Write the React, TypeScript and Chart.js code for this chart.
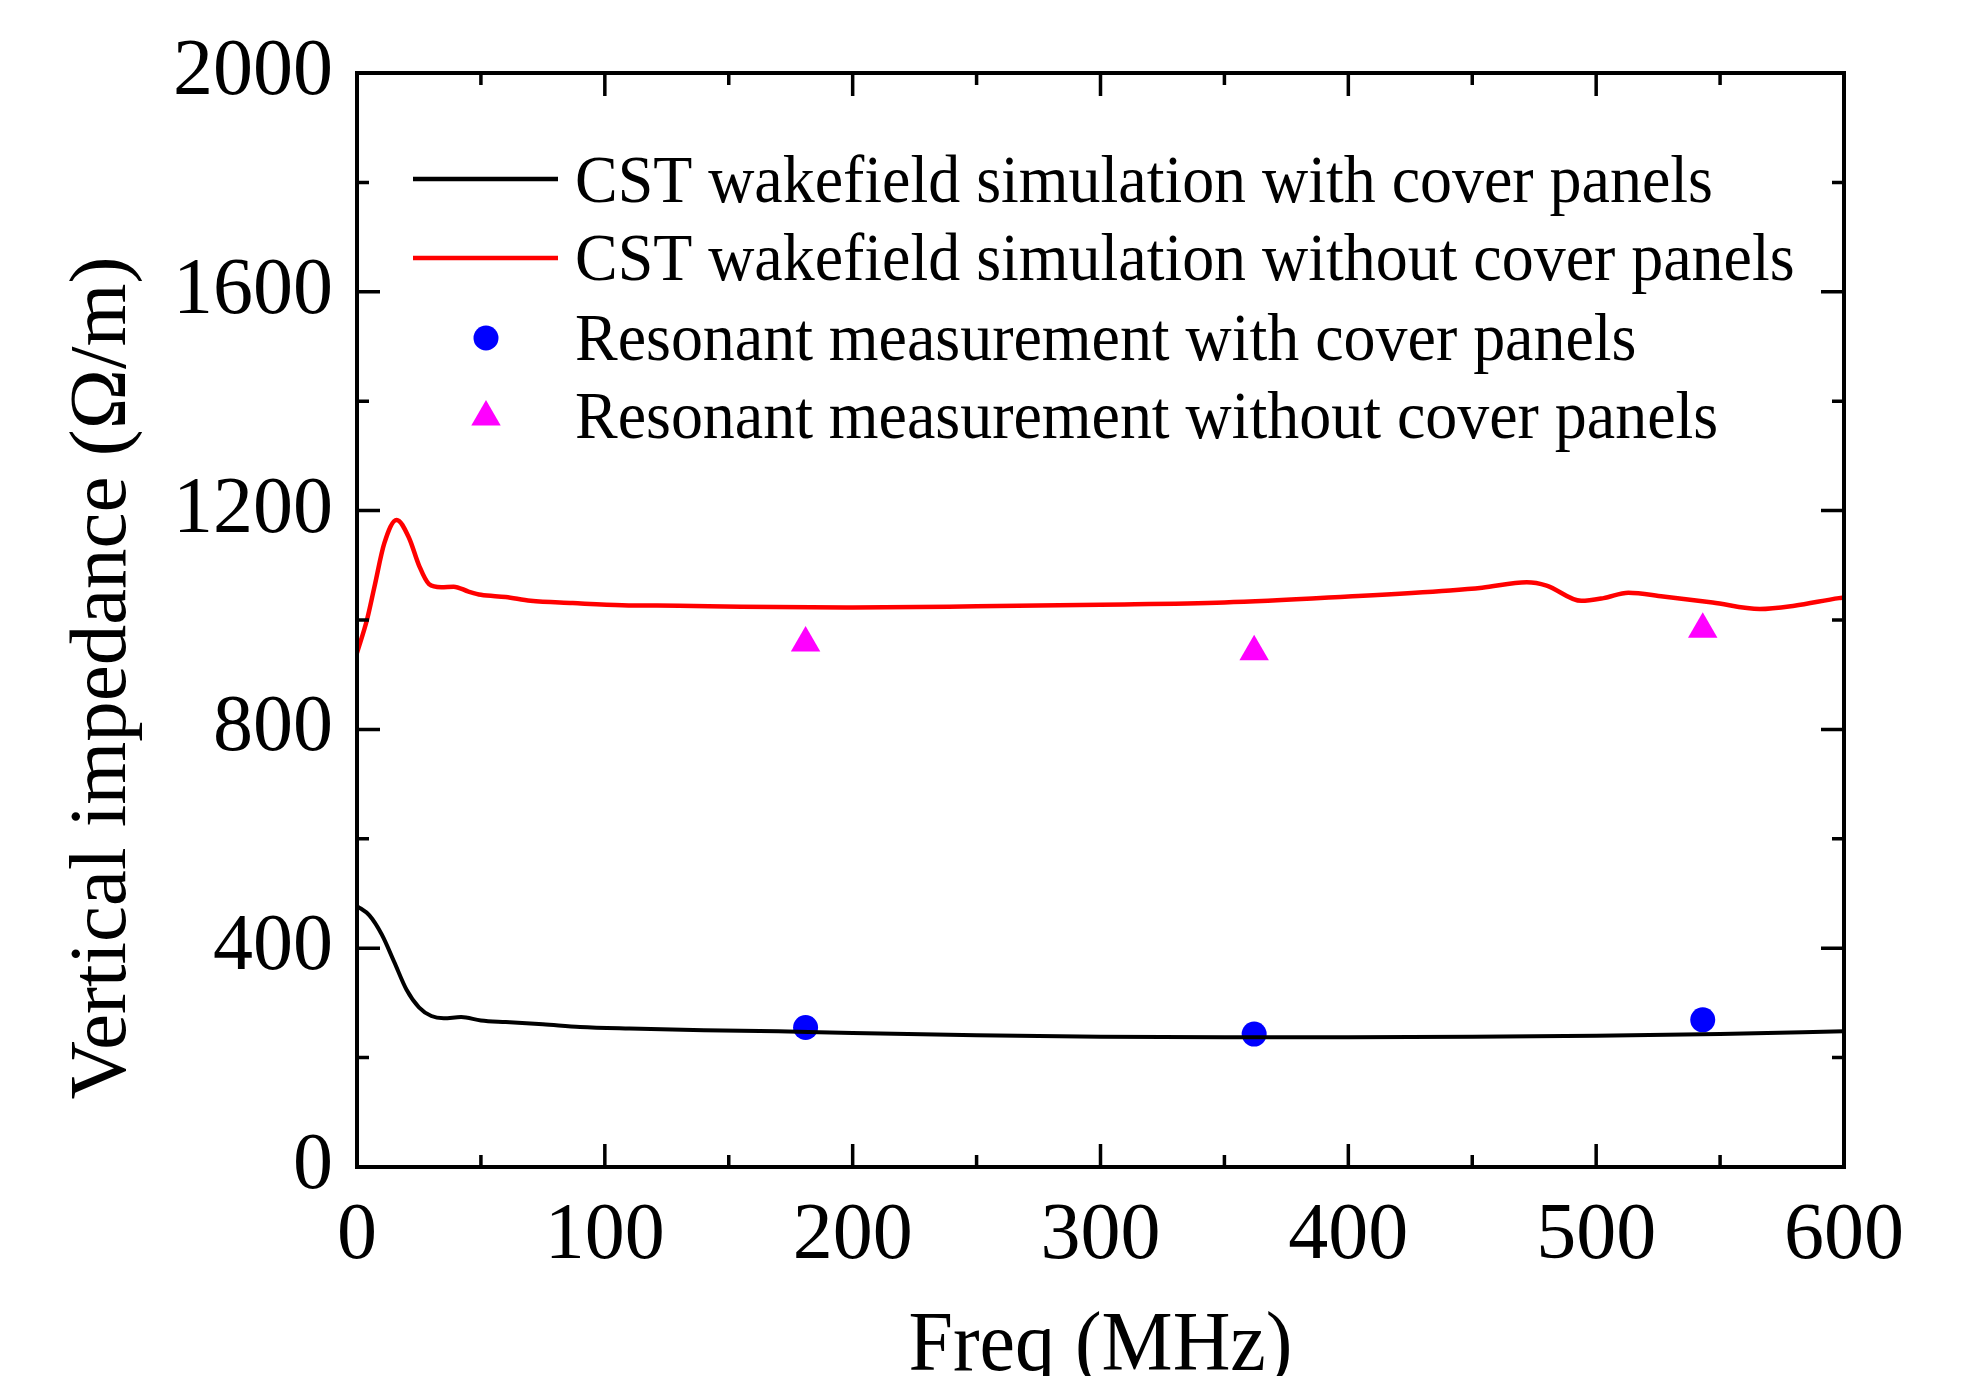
import React, { useEffect, useRef } from "react";
import { Chart, registerables } from "chart.js";

Chart.register(...registerables);

// ---- data ----
const blackFreq = [0, 5, 10, 15, 20, 25, 30, 35, 42, 50, 60, 75, 90, 110, 140, 170, 200, 250, 300, 350, 400, 450, 500, 550, 600];
const blackZ = [477, 460, 425, 375, 324, 292, 276, 272, 274, 268, 265, 261, 256, 253, 250, 248, 245, 241, 238, 237, 237, 238, 240, 243, 248];

const redFreq = [0, 4, 7, 11, 16, 21, 25, 29, 34, 39, 45, 50, 60, 70, 87, 107, 130, 155, 200, 250, 300, 350, 400, 441, 454, 472, 480, 494, 503, 513, 527, 547, 566, 580, 598, 600];
const redZ = [940, 1000, 1060, 1140, 1183, 1150, 1100, 1066, 1060, 1061, 1052, 1046, 1042, 1035, 1031, 1027, 1026, 1024, 1023, 1025, 1028, 1032, 1043, 1054, 1059, 1069, 1063, 1035, 1040, 1050, 1043, 1032, 1020, 1026, 1040, 1041];

const measFreq = [181, 362, 543];
const measWith = [255, 243, 269];
const measWithout = [958, 942, 983];

const legendLabels = [
  "CST wakefield simulation with cover panels",
  "CST wakefield simulation without cover panels",
  "Resonant measurement with cover panels",
  "Resonant measurement without cover panels",
];
const xTitle = "Freq (MHz)";
const yTitle = "Vertical impedance (Ω/m)";

const xMin = 0, xMax = 600, xMajor = 100, xMinor = 50;
const yMin = 0, yMax = 2000, yMajor = 400, yMinor = 200;

const FONT = "'Liberation Serif', 'Times New Roman', serif";

const toPts = (xs: number[], ys: number[]) => xs.map((x, i) => ({ x, y: ys[i] }));

const framePlugin = {
  id: "frame",
  afterDraw(chart: any) {
    const { ctx, chartArea, scales } = chart;
    const { left, right, top, bottom } = chartArea;
    const xs = scales.x, ys = scales.y;
    ctx.save();
    ctx.strokeStyle = "#000";
    ctx.lineWidth = 4;
    ctx.strokeRect(left, top, right - left, bottom - top);
    ctx.lineWidth = 3.5;
    for (let v = xMin; v <= xMax; v += xMinor) {
      const px = xs.getPixelForValue(v);
      const len = v % xMajor === 0 ? 23 : 12;
      ctx.beginPath();
      ctx.moveTo(px, bottom); ctx.lineTo(px, bottom - len);
      ctx.moveTo(px, top); ctx.lineTo(px, top + len);
      ctx.stroke();
    }
    for (let v = yMin; v <= yMax; v += yMinor) {
      const py = ys.getPixelForValue(v);
      const len = v % yMajor === 0 ? 23 : 12;
      ctx.beginPath();
      ctx.moveTo(left, py); ctx.lineTo(left + len, py);
      ctx.moveTo(right, py); ctx.lineTo(right - len, py);
      ctx.stroke();
    }

    // axis titles
    ctx.fillStyle = "#000";
    ctx.font = `85px ${FONT}`;
    ctx.textAlign = "center";
    ctx.textBaseline = "alphabetic";
    ctx.save();
    ctx.translate((left + right) / 2, 1370);
    ctx.scale(0.94, 1);
    ctx.fillText(xTitle, 0, 0);
    ctx.restore();

    ctx.save();
    ctx.font = `81px ${FONT}`;
    ctx.translate(125, 678);
    ctx.rotate(-Math.PI / 2);
    ctx.fillText(yTitle, 0, 0);
    ctx.restore();

    // legend
    const baselines = [202, 280, 360, 438];
    const symY = [179, 258, 338, 414];
    ctx.font = `68px ${FONT}`;
    ctx.textAlign = "left";
    legendLabels.forEach((t, i) => {
      ctx.save();
      ctx.translate(575, baselines[i]);
      ctx.scale(0.94, 1);
      ctx.fillText(t, 0, 0);
      ctx.restore();
    });
    ctx.lineWidth = 4.5;
    ctx.strokeStyle = "#000";
    ctx.beginPath(); ctx.moveTo(413, symY[0]); ctx.lineTo(558, symY[0]); ctx.stroke();
    ctx.strokeStyle = "#ff0000";
    ctx.beginPath(); ctx.moveTo(413, symY[1]); ctx.lineTo(558, symY[1]); ctx.stroke();
    ctx.fillStyle = "#0000ff";
    ctx.beginPath(); ctx.arc(486, symY[2], 12.5, 0, Math.PI * 2); ctx.fill();
    ctx.fillStyle = "#ff00ff";
    const r = 17;
    const cy = symY[3] + 3;
    ctx.beginPath();
    ctx.moveTo(486, cy - r);
    ctx.lineTo(486 + r * Math.sin((2 * Math.PI) / 3), cy + r / 2);
    ctx.lineTo(486 - r * Math.sin((2 * Math.PI) / 3), cy + r / 2);
    ctx.closePath();
    ctx.fill();
    ctx.restore();
  },
};

export default function App() {
  const ref = useRef<HTMLCanvasElement | null>(null);
  useEffect(() => {
    if (!ref.current) return;
    Chart.defaults.font.family = FONT;
    const chart = new Chart(ref.current, {
      type: "line",
      data: {
        datasets: [
          {
            label: legendLabels[0],
            data: toPts(blackFreq, blackZ),
            borderColor: "#000000",
            borderWidth: 4,
            pointRadius: 0,
            cubicInterpolationMode: "monotone",
            fill: false,
          },
          {
            label: legendLabels[1],
            data: toPts(redFreq, redZ),
            borderColor: "#ff0000",
            borderWidth: 4.5,
            pointRadius: 0,
            cubicInterpolationMode: "monotone",
            fill: false,
          },
          {
            label: legendLabels[2],
            data: toPts(measFreq, measWith),
            showLine: false,
            pointStyle: "circle",
            pointRadius: 12.5,
            pointBorderWidth: 0,
            pointBackgroundColor: "#0000ff",
            borderColor: "#0000ff",
          },
          {
            label: legendLabels[3],
            data: toPts(measFreq, measWithout),
            showLine: false,
            pointStyle: "triangle",
            pointRadius: 17,
            pointBorderWidth: 0,
            pointBackgroundColor: "#ff00ff",
            borderColor: "#ff00ff",
          },
        ],
      } as any,
      options: {
        animation: false,
        responsive: false,
        devicePixelRatio: 1,
        layout: { padding: { left: 0, top: 73, right: 122, bottom: 0 } },
        plugins: { legend: { display: false }, tooltip: { enabled: false } },
        scales: {
          x: {
            type: "linear",
            min: xMin,
            max: xMax,
            grid: { display: false, drawTicks: false },
            border: { display: false },
            ticks: { stepSize: xMajor, font: { size: 80, family: FONT }, color: "#000", padding: 22, maxRotation: 0, callback: (v: any) => String(v) },
            afterFit: (s: any) => { s.height = 1376 - 1167; },
          },
          y: {
            type: "linear",
            min: yMin,
            max: yMax,
            grid: { display: false, drawTicks: false },
            border: { display: false },
            ticks: { stepSize: yMajor, font: { size: 80, family: FONT }, color: "#000", padding: 24, callback: (v: any) => String(v) },
            afterFit: (s: any) => { s.width = 357; },
          },
        },
      } as any,
      plugins: [framePlugin],
    });
    return () => chart.destroy();
  }, []);
  return (
    <div style={{ position: "absolute", left: 0, top: 0, width: 1966, height: 1376, background: "#fff" }}>
      <canvas ref={ref} width={1966} height={1376} style={{ display: "block" }} />
    </div>
  );
}
